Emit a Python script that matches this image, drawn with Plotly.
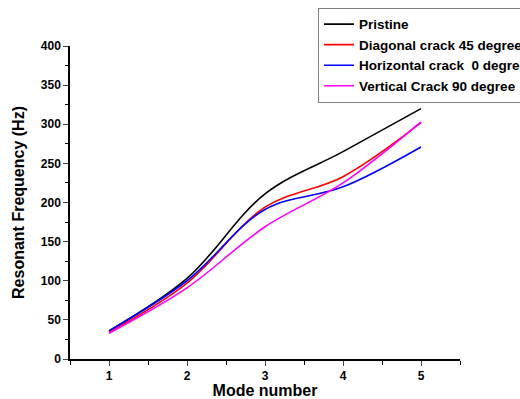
import plotly.graph_objects as go

modes = [1, 2, 3, 4, 5]
pristine = [36, 103, 211, 265, 320]
diagonal = [34, 97, 194, 233, 302]
horizontal = [36, 100, 191, 220, 271]
vertical = [33, 91, 169, 225, 303]

names = ["Pristine", "Diagonal crack 45 degree", "Horizontal crack  0 degree", "Vertical Crack 90 degree"]
colors = ["#000000", "#ff0000", "#0000ff", "#ff00ff"]
series = [pristine, diagonal, horizontal, vertical]

fig = go.Figure()
for n, c, s in zip(names, colors, series):
    fig.add_trace(go.Scatter(x=modes, y=s, name=n, mode="lines",
                             line=dict(color=c, width=1.6, shape="spline", smoothing=1.0)))

font = "Liberation Sans, Arial, sans-serif"
fig.update_layout(
    width=520, height=399,
    margin=dict(l=70, r=60, t=46, b=40, autoexpand=False),
    paper_bgcolor="white", plot_bgcolor="white",
    font=dict(family=font, color="black"),
    showlegend=True,
    legend=dict(x=0.636, y=1.122, xanchor="left", yanchor="top",
                bordercolor="#808080", borderwidth=1, bgcolor="white",
                font=dict(family=font, size=13.5, color="black", weight="bold"),
                tracegroupgap=0, itemwidth=30),
    xaxis=dict(range=[0.5, 5.5], tickvals=[1, 2, 3, 4, 5], ticks="outside", ticklen=5,
               tickwidth=1.2, showline=True, linecolor="black", linewidth=1.5,
               showgrid=False, zeroline=False, automargin=False,
               minor=dict(tickvals=[0.5, 1.5, 2.5, 3.5, 4.5, 5.5], ticks="outside", ticklen=4, tickcolor="black", tickwidth=1.2),
               tickfont=dict(family=font, size=12, weight="bold"),
               title=dict(text="Mode number", font=dict(family=font, size=16, weight="bold"), standoff=5)),
    yaxis=dict(range=[0, 400], dtick=50, ticks="outside", ticklen=5, tickwidth=1.2,
               showline=True, linecolor="black", linewidth=1.5,
               showgrid=False, zeroline=False, automargin=False,
               minor=dict(dtick=25, ticks="outside", ticklen=3, tickcolor="black", tickwidth=1.2),
               tickfont=dict(family=font, size=12, weight="bold"),
               title=dict(text="Resonant Frequency (Hz)", font=dict(family=font, size=16, weight="bold"), standoff=12)),
)

fig.write_html("out.html")
